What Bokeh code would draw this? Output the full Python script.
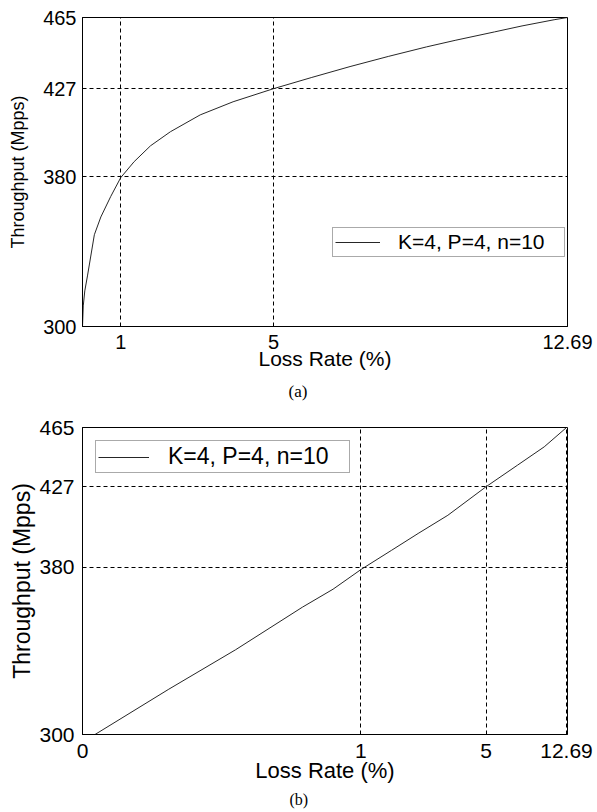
import numpy as np
from bokeh.plotting import figure
from bokeh.models import FixedTicker, Legend, LegendItem, Range1d
from bokeh.layouts import column
from bokeh.embed import file_html
from bokeh.resources import INLINE

# ---------------- data ----------------
series_label = "K=4, P=4, n=10"
x_title = "Loss Rate (%)"
y_title = "Throughput (Mpps)"
thr_ticks = [300, 380, 427, 465]

# panel (a): linear axes
loss_a = [0.0, 0.02, 0.06, 0.13, 0.31, 0.48, 0.74, 1.0, 1.35, 1.78, 2.3, 3.08, 3.94,
          5.0, 6.0, 7.0, 8.0, 9.0, 9.75, 10.78, 11.5, 12.34, 12.69]
thr_a = [300, 311, 319, 327, 349, 358.5, 369.5, 379.5, 388, 396.5, 404, 413, 420,
         427, 433, 438.8, 444.2, 449.3, 452.8, 457.3, 460.5, 463.8, 465]
loss_ticks_a = [1, 5, 12.69]

# panel (b): non-uniform axes (tick values and the fraction of the axis at which each sits)
loss_b = [0.045, 0.31, 0.55, 0.79, 0.9, 1.0, 1.98, 2.83, 3.78, 5.0, 8.0, 10.56, 12.69]
thr_b = [300, 321.7, 340.6, 361.0, 369.6, 379, 390, 399.8, 410.4, 427, 440.8, 452.6, 465]
loss_ticks_b = [0, 1, 5, 12.69]
loss_scale_b = [0.0, 0.574, 0.832, 0.998]
thr_scale_b = [0.0, 0.544, 0.807, 1.0]

FONT = "Liberation Sans"
LINE_COLOR = "#262626"


def lbl(v):
    return f"{v:g}"


def style(p, tick_size, xlab_size, ylab_size, x_label_standoff, x_axlab_standoff,
          y_label_standoff, y_axlab_standoff):
    p.outline_line_color = "black"
    p.outline_line_width = 1
    p.background_fill_color = "white"
    p.border_fill_color = "white"
    for ax in (p.xaxis[0], p.yaxis[0]):
        ax.axis_line_color = "black"
        ax.axis_line_width = 1
        ax.major_tick_in = 3
        ax.major_tick_out = 0
        ax.minor_tick_line_color = None
        ax.major_label_text_font = FONT
        ax.major_label_text_font_size = tick_size
        ax.major_label_text_color = "black"
        ax.axis_label_text_font = FONT
        ax.axis_label_text_font_style = "normal"
        ax.axis_label_text_color = "black"
    p.xaxis[0].axis_label_text_font_size = xlab_size
    p.yaxis[0].axis_label_text_font_size = ylab_size
    p.xaxis[0].major_label_standoff = x_label_standoff
    p.xaxis[0].axis_label_standoff = x_axlab_standoff
    p.yaxis[0].major_label_standoff = y_label_standoff
    p.yaxis[0].axis_label_standoff = y_axlab_standoff
    for g in (p.xgrid[0], p.ygrid[0]):
        g.grid_line_color = "black"
        g.grid_line_dash = "4 3"
        g.grid_line_width = 1
        g.grid_line_alpha = 1.0
    p.title.text_font = "Liberation Serif"
    p.title.text_font_style = "normal"
    p.title.text_color = "black"
    p.title.align = "left"


# ---------------- panel (a) ----------------
pa = figure(width=597, height=408, output_backend="svg", toolbar_location=None,
            title="(a)", title_location="below",
            x_range=Range1d(0, 12.69), y_range=Range1d(300, 465),
            x_axis_label=x_title, y_axis_label=y_title,
            min_border_left=82, min_border_right=28, min_border_top=17, min_border_bottom=81)
ra = pa.line(loss_a, thr_a, line_color=LINE_COLOR, line_width=1)
pa.xaxis[0].ticker = FixedTicker(ticks=loss_ticks_a)
pa.xaxis[0].major_label_overrides = {t: lbl(t) for t in loss_ticks_a}
pa.yaxis[0].ticker = FixedTicker(ticks=thr_ticks)
pa.xgrid[0].ticker = FixedTicker(ticks=loss_ticks_a)
pa.ygrid[0].ticker = FixedTicker(ticks=thr_ticks)
style(pa, "20px", "21px", "18px", 8, -5, 6, 12)
pa.title.text_font_size = "17px"
pa.title.offset = 206
pa.title.standoff = 15
leg_a = Legend(items=[LegendItem(label=series_label, renderers=[ra])],
               location=(250, 69), margin=0, padding=2, glyph_width=45, glyph_height=20,
               label_height=20, label_standoff=18, label_width=164,
               label_text_font=FONT, label_text_font_size="21px", label_text_color="black",
               border_line_color="#555555", border_line_width=1, background_fill_alpha=1.0)
pa.add_layout(leg_a)

# ---------------- panel (b) ----------------
xb = np.interp(loss_b, loss_ticks_b, loss_scale_b)
yb = np.interp(thr_b, thr_ticks, thr_scale_b)

pb = figure(width=597, height=404, output_backend="svg", toolbar_location=None,
            title="(b)", title_location="below",
            x_range=Range1d(0, 1), y_range=Range1d(0, 1),
            x_axis_label=x_title, y_axis_label=y_title,
            min_border_left=80, min_border_right=30, min_border_top=19, min_border_bottom=78)
rb = pb.line(xb, yb, line_color=LINE_COLOR, line_width=1)
pb.xaxis[0].ticker = FixedTicker(ticks=loss_scale_b)
pb.xaxis[0].major_label_overrides = {s: lbl(t) for s, t in zip(loss_scale_b, loss_ticks_b)}
pb.yaxis[0].ticker = FixedTicker(ticks=thr_scale_b)
pb.yaxis[0].major_label_overrides = {s: lbl(t) for s, t in zip(thr_scale_b, thr_ticks)}
pb.xgrid[0].ticker = FixedTicker(ticks=loss_scale_b)
pb.ygrid[0].ticker = FixedTicker(ticks=thr_scale_b)
style(pb, "21px", "22px", "23px", 9, -3, 8, 1)
pb.title.text_font_size = "16px"
pb.title.offset = 207
pb.title.standoff = 6
leg_b = Legend(items=[LegendItem(label=series_label, renderers=[rb])],
               location="top_left", margin=13, padding=2, glyph_width=51, glyph_height=20,
               label_height=20, label_standoff=19, label_width=179,
               label_text_font=FONT, label_text_font_size="23px", label_text_color="black",
               border_line_color="#555555", border_line_width=1, background_fill_alpha=1.0)
pb.add_layout(leg_b)

layout = column(pa, pb, spacing=0)
open("out.html", "w").write(file_html(layout, INLINE))
